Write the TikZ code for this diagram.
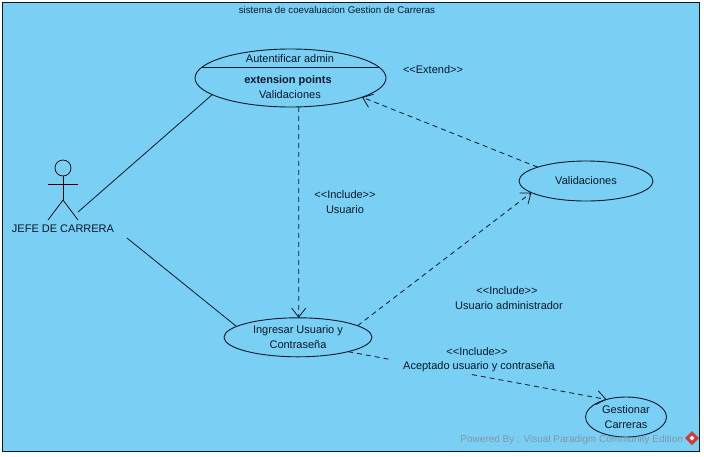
\documentclass[tikz,border=0pt]{standalone}
\usepackage{fontspec}
\setmainfont{Liberation Sans}
\definecolor{myback}{RGB}{122,207,245}
\definecolor{myink}{RGB}{8,24,40}
\definecolor{mygray}{RGB}{132,150,165}
\definecolor{myred}{RGB}{205,60,55}
\usetikzlibrary{arrows.meta,shapes.geometric}

\begin{document}
\begin{tikzpicture}[x=1pt,y=-1pt,
        every node/.style={font=\fontsize{11}{14.5}\selectfont,text=myink,inner sep=0pt,outer sep=0pt},
        usecase/.style={draw=myink,ellipse,line width=0.9pt,align=center},
        assoc/.style={draw=myink,line width=0.8pt},
        depend/.style={draw=myink,line width=0.8pt,dash pattern=on 5pt off 4pt,-{Straight Barb[length=9pt,width=14pt]}},
        limb/.style={draw=black,line width=0.7pt}
        ]
        \useasboundingbox (0,0) rectangle (704,456);
        \node[draw=myink,fill=myback,line width=1pt,minimum width=697pt,minimum height=449pt] (frame) at (350.5,226.5) {};
        \node[font=\fontsize{9.7}{12}\selectfont] (title) at (337,10.5) {sistema de coevaluacion Gestion de Carreras};

        % the actor
        \node[circle,draw=black,line width=0.7pt,minimum size=16pt] (head) at (63,168) {};
        \coordinate (hip) at (63,200);
        \coordinate (armL) at (48,184);
        \coordinate (armR) at (78,184);
        \coordinate (footL) at (48,220);
        \coordinate (footR) at (78,220);
        \draw[limb] (head) -- (hip);
        \draw[limb] (armL) -- (armR);
        \draw[limb] (footL) -- (hip) -- (footR);
        \node (jefe) at (63,228.8) {JEFE DE CARRERA};

        % the use cases
        \node[usecase,minimum width=191pt,minimum height=58pt] (auth) at (290.5,78) {};
        \coordinate (divL) at (201,67);
        \coordinate (divR) at (380,67);
        \draw[usecase] (divL) -- (divR);
        \node (authname) at (290,58.8) {Autentificar  admin};
        \node[font=\fontsize{11}{14}\selectfont\bfseries] (points) at (288,80.5) {extension points};
        \node (point) at (290,94.8) {Validaciones};
        \node[usecase,minimum width=134pt,minimum height=40pt] (valid) at (586,181) {Validaciones};
        \node[usecase,minimum width=148pt,minimum height=39pt] (login) at (298,337.3) {Ingresar Usuario y\\Contraseña};
        \node[usecase,minimum width=81pt,minimum height=40pt] (gest) at (626,417) {Gestionar\\Carreras};

        % the links
        \coordinate (actorA) at (78,212);
        \coordinate (actorB) at (127,238);
        \draw[assoc] (actorA) -- (auth.192);
        \draw[assoc] (actorB) -- (login.170);
        \draw[depend] (auth.286) -- (login.88);
        \draw[depend] (valid.164) -- (auth.345);
        \draw[depend] (login.11.5) -- (valid.192);
        \draw[depend] (login.344.5) -- (gest.138);

        % the labels of the links
        \node (extend) at (433,69.8) {<{}<Extend>{}>};
        \node (inc1) at (345,194.8) {<{}<Include>{}>};
        \node (inc1b) at (345,209.8) {Usuario};
        \node (inc2) at (507,290.8) {<{}<Include>{}>};
        \node (inc2b) at (509,305.8) {Usuario administrador};
        \node (inc3) at (477,351.8) {<{}<Include>{}>};
        \node[fill=myback,minimum width=176pt,minimum height=15pt] (inc3b) at (479,366.5) {Aceptado usuario y contraseña};

        % the mark of the tool
        \node[font=\fontsize{10}{12}\selectfont,text=mygray,anchor=east] (powered) at (683,439.5) {Powered By : Visual Paradigm Community Edition};
        \node[diamond,fill=myred,minimum size=14pt] (logo) at (692,438) {};
        \node[diamond,fill=white,minimum size=5pt] (logoin) at (692,438) {};
\end{tikzpicture}
\end{document}
